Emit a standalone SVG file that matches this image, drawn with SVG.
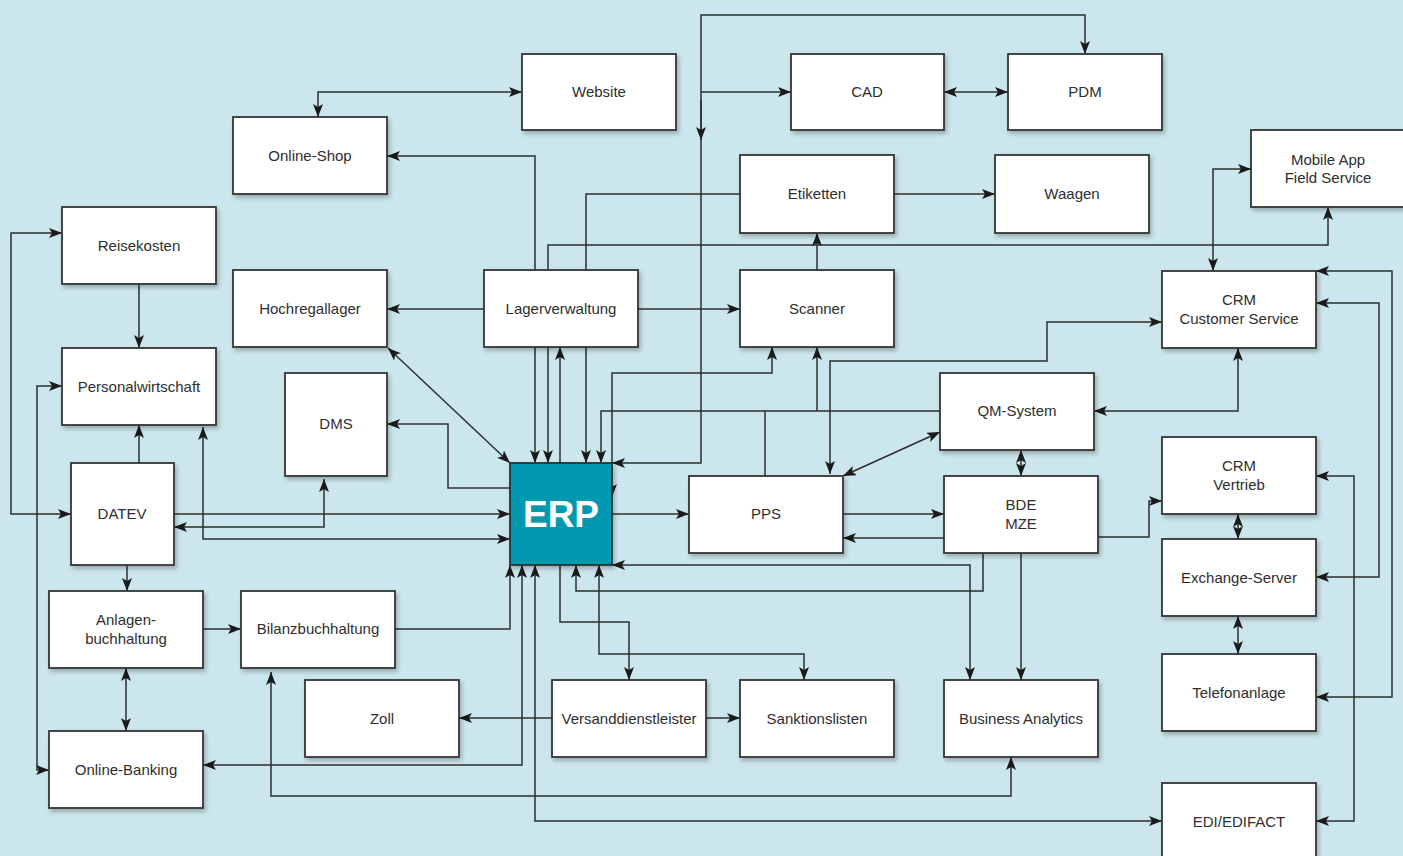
<svg xmlns="http://www.w3.org/2000/svg" width="1403" height="856" viewBox="0 0 1403 856">
  <style>
    .box { fill: #ffffff; stroke: #333333; stroke-width: 1.8; filter: url(#shadow); }
    .erp { fill: #0099b0; stroke: #263538; stroke-width: 1.8; filter: url(#shadow); }
    .lbl { font-family: "Liberation Sans", Arial, sans-serif; font-size: 15px; fill: #2e2e2e; text-anchor: middle; }
    .big { font-family: "Liberation Sans", Arial, sans-serif; font-size: 37px; font-weight: bold; fill: #ffffff; text-anchor: middle; }
    .c { fill: none; stroke: #2e2e2e; stroke-width: 1.5; }
    .e { marker-end: url(#arr); }
    .b { marker-start: url(#arr); marker-end: url(#arr); }
  </style>
  <defs>
    <filter id="shadow" x="-10%" y="-10%" width="130%" height="130%">
      <feDropShadow dx="2" dy="3" stdDeviation="2" flood-color="#000000" flood-opacity="0.25"/>
    </filter>
    <marker id="arr" markerUnits="userSpaceOnUse" markerWidth="14" markerHeight="11" refX="13" refY="5" orient="auto-start-reverse">
      <path d="M0,0 L13,5 L0,10 L3,5 z" fill="#1a1a1a"/>
    </marker>
  </defs>

  <rect width="1403" height="856" fill="#cbe6ec"/>

  <g id="connectors">
    <path class="c b" d="M522,92 H318 V117"/>
    <path class="c b" d="M387,156 H535 V463"/>
    <path class="c b" d="M548,463 V245 H1328 V207"/>
    <path class="c e" d="M560,463 V347"/>
    <path class="c e" d="M740,194 H586 V463"/>
    <path class="c e" d="M940,411 H601 V463"/>
    <path class="c" d="M765,476 V411"/>
    <path class="c e" d="M817,411 V347"/>
    <path class="c b" d="M772,347 V373 H612 V497"/>
    <path class="c b" d="M612,463 H701 V15 H1085 V54"/>
    <path class="c e" d="M701,92 H791"/>
    <path class="c e" d="M701,100 V140"/>
    <path class="c e" d="M612,514 H689"/>
    <path class="c b" d="M612,565 H970 V680"/>
    <path class="c e" d="M983,552 V591 H576 V565"/>
    <path class="c e" d="M1021,552 V680"/>
    <path class="c e" d="M395,629 H510 V565"/>
    <path class="c b" d="M522,565 V765 H203"/>
    <path class="c b" d="M535,565 V821 H1162"/>
    <path class="c e" d="M560,565 V622 H629 V680"/>
    <path class="c b" d="M599,565 V654 H804 V680"/>
    <path class="c e" d="M552,718 H459"/>
    <path class="c e" d="M705,718 H740"/>
    <path class="c b" d="M271,672 V796 H1011 V757"/>
    <path class="c b" d="M388,348 L510,463"/>
    <path class="c e" d="M510,488 H448 V424 H387"/>
    <path class="c e" d="M174,514 H510"/>
    <path class="c b" d="M324,479 V527 H174"/>
    <path class="c b" d="M203,427 V539 H510"/>
    <path class="c e" d="M484,309 H387"/>
    <path class="c e" d="M638,309 H740"/>
    <path class="c e" d="M817,270 V233"/>
    <path class="c e" d="M894,194 H995"/>
    <path class="c b" d="M944,92 H1008"/>
    <path class="c e" d="M139,284 V348"/>
    <path class="c e" d="M139,463 V425"/>
    <path class="c b" d="M71,514 H11 V233 H62"/>
    <path class="c b" d="M49,770 H37 V386 H62"/>
    <path class="c e" d="M127,565 V591"/>
    <path class="c e" d="M203,629 H241"/>
    <path class="c b" d="M126,668 V731"/>
    <path class="c e" d="M843,514 H944"/>
    <path class="c e" d="M944,538 H843"/>
    <path class="c b" d="M843,476 L940,432"/>
    <path class="c b" d="M1021,450 V476"/>
    <path class="c b" d="M830,474 V361 H1047 V322 H1162"/>
    <path class="c b" d="M1094,411 H1238 V348"/>
    <path class="c e" d="M1098,537 H1149 V501 H1162"/>
    <path class="c b" d="M1238,514 V539"/>
    <path class="c b" d="M1238,616 V654"/>
    <path class="c b" d="M1251,169 H1213 V271"/>
    <path class="c b" d="M1316,271 H1392 V697 H1316"/>
    <path class="c b" d="M1316,303 H1379 V577 H1316"/>
    <path class="c b" d="M1316,476 H1354 V821 H1316"/>
  </g>

  <g id="website"><rect class="box" x="522" y="54" width="154" height="76"/><text class="lbl" x="599" y="97">Website</text></g>
  <g id="online-shop"><rect class="box" x="233" y="117" width="154" height="77"/><text class="lbl" x="310" y="161">Online-Shop</text></g>
  <g id="reisekosten"><rect class="box" x="62" y="207" width="154" height="77"/><text class="lbl" x="139" y="251">Reisekosten</text></g>
  <g id="cad"><rect class="box" x="791" y="54" width="153" height="76"/><text class="lbl" x="867" y="97">CAD</text></g>
  <g id="pdm"><rect class="box" x="1008" y="54" width="154" height="76"/><text class="lbl" x="1085" y="97">PDM</text></g>
  <g id="etiketten"><rect class="box" x="740" y="155" width="154" height="78"/><text class="lbl" x="817" y="199">Etiketten</text></g>
  <g id="waagen"><rect class="box" x="995" y="155" width="154" height="78"/><text class="lbl" x="1072" y="199">Waagen</text></g>
  <g id="mobile-app"><rect class="box" x="1251" y="130" width="154" height="77"/><text class="lbl" x="1328" y="165">Mobile App</text><text class="lbl" x="1328" y="183">Field Service</text></g>
  <g id="hochregallager"><rect class="box" x="233" y="270" width="154" height="77"/><text class="lbl" x="310" y="314">Hochregallager</text></g>
  <g id="lagerverwaltung"><rect class="box" x="484" y="270" width="154" height="77"/><text class="lbl" x="561" y="314">Lagerverwaltung</text></g>
  <g id="scanner"><rect class="box" x="740" y="270" width="154" height="77"/><text class="lbl" x="817" y="314">Scanner</text></g>
  <g id="crm-cs"><rect class="box" x="1162" y="271" width="154" height="77"/><text class="lbl" x="1239" y="305">CRM</text><text class="lbl" x="1239" y="324">Customer Service</text></g>
  <g id="personalwirtschaft"><rect class="box" x="62" y="348" width="154" height="77"/><text class="lbl" x="139" y="392">Personalwirtschaft</text></g>
  <g id="dms"><rect class="box" x="285" y="373" width="102" height="103"/><text class="lbl" x="336" y="429">DMS</text></g>
  <g id="qm-system"><rect class="box" x="940" y="373" width="154" height="77"/><text class="lbl" x="1017" y="416">QM-System</text></g>
  <g id="datev"><rect class="box" x="71" y="463" width="103" height="102"/><text class="lbl" x="122" y="519">DATEV</text></g>
  <g id="erp"><rect class="erp" x="510" y="463" width="102" height="102"/><text class="big" x="561" y="527">ERP</text></g>
  <g id="pps"><rect class="box" x="689" y="476" width="154" height="77"/><text class="lbl" x="766" y="519">PPS</text></g>
  <g id="bde-mze"><rect class="box" x="944" y="476" width="154" height="77"/><text class="lbl" x="1021" y="510">BDE</text><text class="lbl" x="1021" y="529">MZE</text></g>
  <g id="crm-vertrieb"><rect class="box" x="1162" y="437" width="154" height="77"/><text class="lbl" x="1239" y="471">CRM</text><text class="lbl" x="1239" y="490">Vertrieb</text></g>
  <g id="exchange-server"><rect class="box" x="1162" y="539" width="154" height="77"/><text class="lbl" x="1239" y="583">Exchange-Server</text></g>
  <g id="anlagenbuchhaltung"><rect class="box" x="49" y="591" width="154" height="77"/><text class="lbl" x="126" y="625">Anlagen-</text><text class="lbl" x="126" y="644">buchhaltung</text></g>
  <g id="bilanzbuchhaltung"><rect class="box" x="241" y="591" width="154" height="77"/><text class="lbl" x="318" y="634">Bilanzbuchhaltung</text></g>
  <g id="telefonanlage"><rect class="box" x="1162" y="654" width="154" height="77"/><text class="lbl" x="1239" y="698">Telefonanlage</text></g>
  <g id="zoll"><rect class="box" x="305" y="680" width="154" height="77"/><text class="lbl" x="382" y="724">Zoll</text></g>
  <g id="versanddienstleister"><rect class="box" x="552" y="680" width="154" height="77"/><text class="lbl" x="629" y="724">Versanddienstleister</text></g>
  <g id="sanktionslisten"><rect class="box" x="740" y="680" width="154" height="77"/><text class="lbl" x="817" y="724">Sanktionslisten</text></g>
  <g id="business-analytics"><rect class="box" x="944" y="680" width="154" height="77"/><text class="lbl" x="1021" y="724">Business Analytics</text></g>
  <g id="online-banking"><rect class="box" x="49" y="731" width="154" height="77"/><text class="lbl" x="126" y="775">Online-Banking</text></g>
  <g id="edi-edifact"><rect class="box" x="1162" y="783" width="154" height="77"/><text class="lbl" x="1239" y="827">EDI/EDIFACT</text></g>
</svg>
